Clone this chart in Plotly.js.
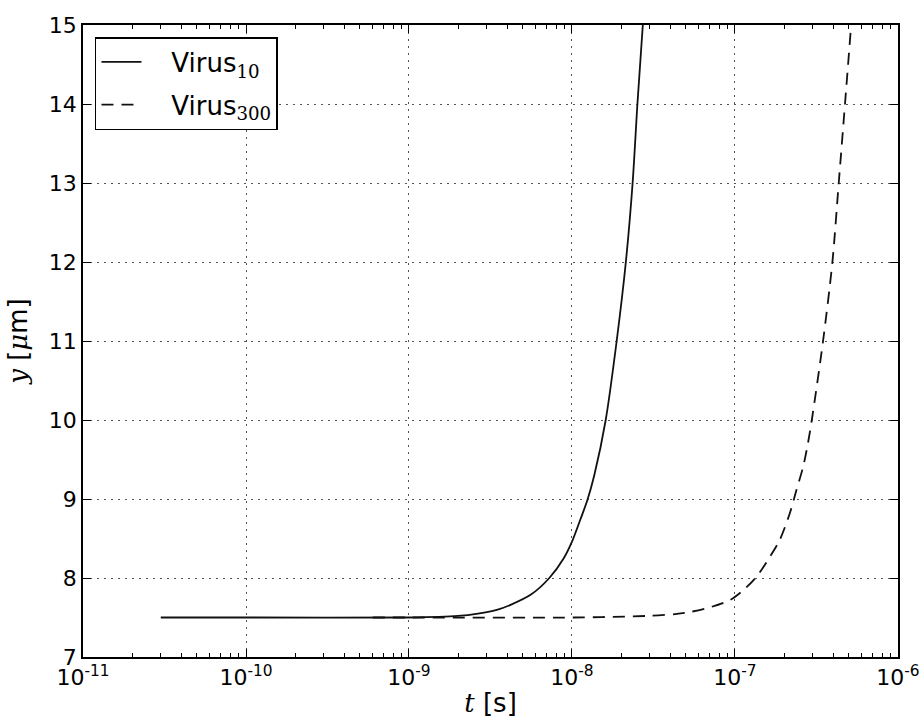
<!DOCTYPE html>
<html>
<head>
<meta charset="utf-8">
<script src="https://cdn.plot.ly/plotly-3.0.1.min.js"></script>
<style>html,body{margin:0;padding:0;background:#fff;}#chart{width:920px;height:725px;}</style>
</head>
<body>
<div id="chart"></div>
<script>
// Virus10 (solid)
const t10 = [3e-11, 1e-10, 1e-9, 2e-9, 2.65e-9, 3.5e-9, 4.2e-9, 5.6e-9, 7.26e-9, 8.9e-9, 1e-8, 1.13e-8, 1.245e-8, 1.37e-8, 1.61e-8, 1.88e-8, 2.14e-8, 2.355e-8, 2.52e-8, 2.72e-8];
const y10 = [7.5, 7.5, 7.5, 7.52, 7.55, 7.6, 7.66, 7.79, 8.0, 8.25, 8.46, 8.75, 8.99, 9.3, 10.0, 11.0, 12.0, 13.0, 14.0, 15.0];
// Virus300 (dashed)
const t300 = [6e-10, 1e-9, 1e-8, 2.9e-8, 4.4e-8, 5.3e-8, 7.05e-8, 9.3e-8, 1.13e-7, 1.36e-7, 1.64e-7, 1.88e-7, 2.17e-7, 2.38e-7, 2.62e-7, 2.8e-7, 2.96e-7, 3.47e-7, 3.96e-7, 4.33e-7, 4.73e-7, 5.16e-7];
const y300 = [7.5, 7.5, 7.5, 7.52, 7.545, 7.57, 7.63, 7.72, 7.85, 8.02, 8.27, 8.48, 8.82, 9.11, 9.41, 9.7, 10.0, 11.0, 12.0, 13.0, 14.0, 15.0];

const xTickVals = [1e-11, 1e-10, 1e-9, 1e-8, 1e-7, 1e-6];
const xTickText = ['10<sup>-11</sup>', '10<sup>-10</sup>', '10<sup>-9</sup>', '10<sup>-8</sup>', '10<sup>-7</sup>', '10<sup>-6</sup>'];
const yTickVals = [7, 8, 9, 10, 11, 12, 13, 14, 15];

const sans = "'DejaVu Sans', sans-serif";
const pad = '\u00a0\u00a0\u00a0';

const traces = [
  {x: t10, y: y10, type: 'scatter', mode: 'lines', name: pad + 'Virus<sub><span style="font-family:DejaVu Serif">10</span></sub>',
   legendgroup: 'a', line: {color: '#111', width: 1.8, shape: 'spline', smoothing: 0.8}},
  {x: t300, y: y300, type: 'scatter', mode: 'lines', name: pad + 'Virus<sub><span style="font-family:DejaVu Serif">300</span></sub>',
   legendgroup: 'b', line: {color: '#111', width: 1.8, dash: '12px,8px', shape: 'spline', smoothing: 0.8}},
  {x: [], y: [], type: 'scatter', mode: 'lines', xaxis: 'x2', showlegend: false, hoverinfo: 'skip'}
];

const axisCommon = {
  showline: true, linecolor: '#000', linewidth: 1.8,
  ticks: 'inside', ticklen: 8, tickwidth: 1, tickcolor: '#000',
  showgrid: true, gridcolor: '#555', gridwidth: 1, griddash: '2px,5px',
  zeroline: false, tickfont: {family: sans, size: 22, color: '#000'}
};

const layout = {
  width: 920, height: 725,
  margin: {l: 83, r: 22, t: 25, b: 68},
  paper_bgcolor: '#fff', plot_bgcolor: '#fff',
  showlegend: true,
  legend: {x: 0.0147, y: 0.981, xanchor: 'left', yanchor: 'top',
    bgcolor: '#fff', bordercolor: '#000', borderwidth: 1.5,
    font: {family: sans, size: 26, color: '#000'}, itemwidth: 40,
    traceorder: 'grouped', tracegroupgap: 6},
  xaxis: Object.assign({}, axisCommon, {
    type: 'log', range: [-11, -5.9999], tickvals: xTickVals, ticktext: xTickText,
    ticklabeloverflow: 'allow',
    minor: {ticks: 'inside', ticklen: 4, tickcolor: '#000', dtick: 'D1', showgrid: false},
    title: {text: '<span style="font-family:DejaVu Serif"><i>t</i></span> [s]', font: {family: sans, size: 26, color: '#000'}, standoff: 4}
  }),
  xaxis2: {
    type: 'log', range: [-11, -5.9999], overlaying: 'x', side: 'top', anchor: 'y',
    showline: true, linecolor: '#000', linewidth: 1.8, showgrid: false, zeroline: false,
    ticks: 'inside', ticklen: 8, tickwidth: 1, tickcolor: '#000',
    tickvals: xTickVals, showticklabels: false,
    minor: {ticks: 'inside', ticklen: 4, tickcolor: '#000', dtick: 'D1', showgrid: false}
  },
  yaxis: Object.assign({}, axisCommon, {
    range: [7, 15], tickvals: yTickVals, mirror: 'ticks',
    title: {text: '<span style="font-family:DejaVu Serif"><i>y</i></span> [<span style="font-family:DejaVu Serif"><i>μ</i></span>m]', font: {family: sans, size: 26, color: '#000'}, standoff: 14}
  })
};

Plotly.newPlot('chart', traces, layout, {displayModeBar: false, staticPlot: true});
</script>
</body>
</html>
